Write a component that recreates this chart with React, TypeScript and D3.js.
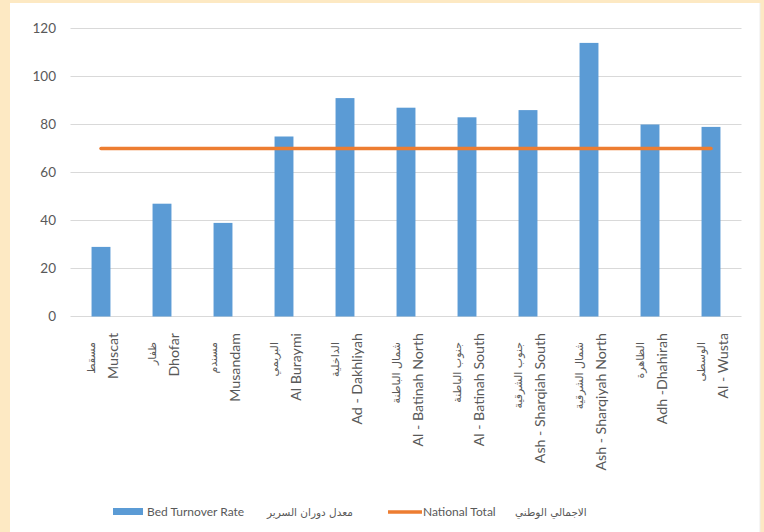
import React from "react";
import * as d3 from "d3";

const categoriesEn = [
  "Muscat",
  "Dhofar",
  "Musandam",
  "Al  Buraymi",
  "Ad - Dakhliyah",
  "Al - Batinah North",
  "Al - Batinah South",
  "Ash - Sharqiah South",
  "Ash - Sharqiyah North",
  "Adh -Dhahirah",
  "Al - Wusta",
];
const categoriesAr = [
  "مسقط",
  "ظفار",
  "مسندم",
  "البريمي",
  "الداخلية",
  "شمال الباطنة",
  "جنوب الباطنة",
  "جنوب الشرقية",
  "شمال الشرقية",
  "الظاهرة",
  "الوسطى",
];
const bedTurnover = [29, 47, 39, 75, 91, 87, 83, 86, 114, 80, 79];
const nationalTotal = [70, 70, 70, 70, 70, 70, 70, 70, 70, 70, 70];
const yTicks = [0, 20, 40, 60, 80, 100, 120];
const legendLabels = {
  bar: "Bed Turnover Rate",
  barAr: "معدل دوران السرير",
  line: "National Total",
  lineAr: "الاجمالي الوطني",
};

const W = 764;
const H = 532;
const plot = { left: 70.5, right: 741.5, top: 28.5, bottom: 316.5 };
const FONT = "Lato, 'DejaVu Sans', sans-serif";
const AR_FONT = "'DejaVu Sans', sans-serif";
const TEXT = "#595959";
const BLUE = "#5B9BD5";
const ORANGE = "#ED7D31";

export default function App() {
  const x = d3
    .scaleBand<number>()
    .domain(d3.range(categoriesEn.length))
    .range([plot.left, plot.right])
    .paddingInner(0.69)
    .paddingOuter(0.345);
  const bw = x.bandwidth();
  const xc = (i: number) => (x(i) as number) + bw / 2;
  const y = d3.scaleLinear().domain([0, 120]).range([plot.bottom, plot.top]);

  const line = d3
    .line<number>()
    .x((_, i) => xc(i))
    .y((d) => y(d));

  return (
    <svg
      width={W}
      height={H}
      style={{ position: "absolute", left: 0, top: 0, display: "block" }}
    >
      <rect x={0} y={0} width={W} height={H} fill="#FDE9C3" />
      <rect x={10} y={3} width={750} height={H - 3} fill="#FFFFFF" />
      <line x1={760} x2={760} y1={3} y2={H} stroke="#EDEDED" />

      {yTicks.map((t) => (
        <g key={t}>
          <line
            x1={plot.left}
            x2={plot.right}
            y1={y(t)}
            y2={y(t)}
            stroke="#D9D9D9"
            strokeWidth={1}
          />
          <text
            x={56}
            y={y(t)}
            dy="0.35em"
            textAnchor="end"
            fontFamily={FONT}
            fontSize={13.5}
            fill={TEXT}
          >
            {t}
          </text>
        </g>
      ))}

      {bedTurnover.map((v, i) => (
        <rect
          key={i}
          x={x(i)}
          y={y(v)}
          width={bw}
          height={y(0) - y(v)}
          fill={BLUE}
        />
      ))}

      <path
        d={line(nationalTotal) || ""}
        fill="none"
        stroke={ORANGE}
        strokeWidth={3.5}
        strokeLinecap="round"
      />

      {categoriesEn.map((c, i) => (
        <g key={c}>
          <text
            transform={`translate(${xc(i) + 11},333) rotate(-90)`}
            textAnchor="end"
            dominantBaseline="central"
            fontFamily={FONT}
            fontSize={14.2}
            fill={TEXT}
          >
            {c}
          </text>
          <text
            transform={`translate(${xc(i) - 10},342) rotate(-90)`}
            textAnchor="end"
            dominantBaseline="central"
            fontFamily={AR_FONT}
            fontSize={11}
            fill={TEXT}
          >
            {categoriesAr[i]}
          </text>
        </g>
      ))}

      <g fontFamily={FONT} fontSize={12} fill={TEXT}>
        <rect x={113} y={508} width={30} height={7} fill={BLUE} />
        <text x={147} y={512} dy="0.35em">
          {legendLabels.bar}
        </text>
        <text x={267} y={512} dy="0.35em" fontFamily={AR_FONT} fontSize={10.5}>
          {legendLabels.barAr}
        </text>
        <line x1={388} x2={422} y1={512} y2={512} stroke={ORANGE} strokeWidth={3.5} />
        <text x={423} y={512} dy="0.35em">
          {legendLabels.line}
        </text>
        <text x={515} y={512} dy="0.35em" fontFamily={AR_FONT} fontSize={10.5}>
          {legendLabels.lineAr}
        </text>
      </g>
    </svg>
  );
}
